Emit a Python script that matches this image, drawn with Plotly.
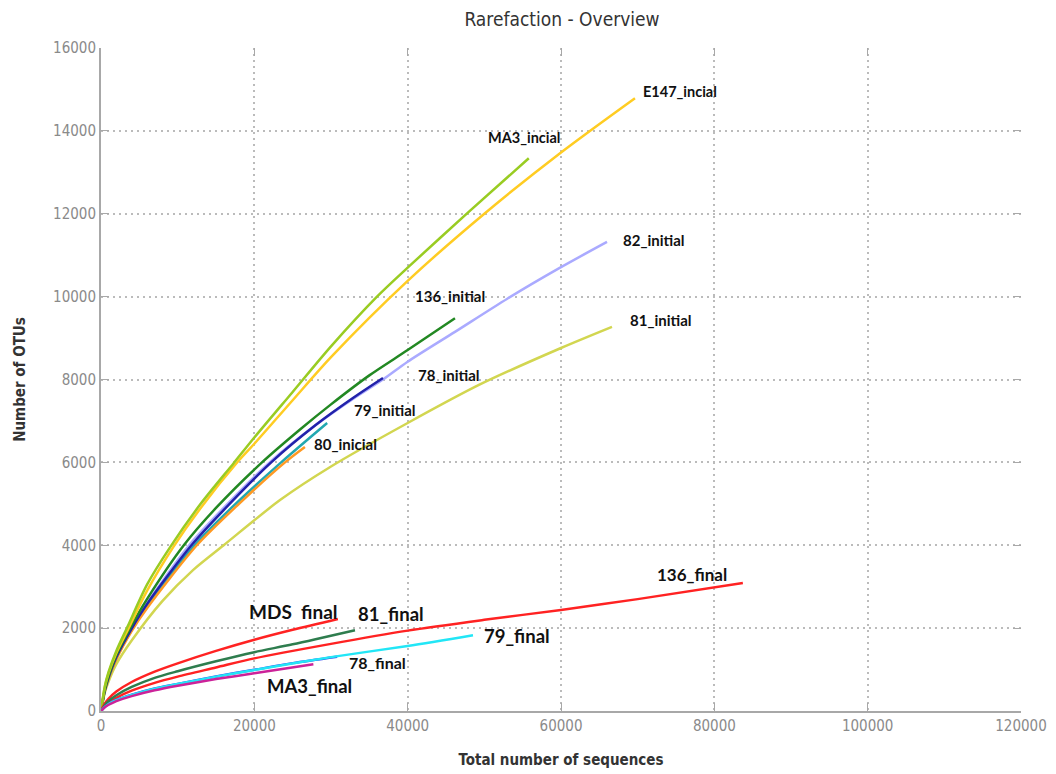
import plotly.graph_objects as go

# ---- data ----
names = ["81_initial", "82_initial", "79_initial", "80_inicial", "78_initial", "136_initial",
         "E147_incial", "MA3_incial", "136_final", "MDS_final", "81_final", "78_final",
         "79_final", "MA3_final"]

x_81_initial = [0, 500, 1000, 2000, 4000, 8000, 12000, 16000, 23350, 30000, 40000, 49430, 60000, 66650]
y_81_initial = [0, 450, 720, 1130, 1700, 2650, 3400, 4000, 5090, 5900, 6950, 7880, 8760, 9270]

x_82_initial = [0, 500, 1000, 2000, 4000, 6000, 11500, 16000, 22000, 28000, 33000, 36780, 40000, 46170, 53000, 60000, 66000]
y_82_initial = [0, 500, 820, 1300, 2000, 2600, 4000, 4900, 6000, 6900, 7550, 8000, 8430, 9150, 9950, 10710, 11320]

x_79_initial = [0, 500, 1000, 2000, 4000, 6000, 12200, 17000, 23500, 29500]
y_79_initial = [0, 490, 800, 1270, 1950, 2520, 4000, 4900, 6000, 6950]

x_80_inicial = [0, 500, 1000, 2000, 4000, 6000, 12500, 18000, 24000, 26600]
y_80_inicial = [0, 480, 790, 1250, 1930, 2480, 4000, 5000, 6000, 6370]

x_78_initial = [0, 500, 1000, 2000, 4000, 6000, 11800, 16000, 22200, 28000, 33000, 36780]
y_78_initial = [0, 500, 820, 1300, 1990, 2580, 4000, 4850, 6000, 6900, 7570, 8035]

x_136_initial = [0, 500, 1000, 2000, 3800, 6000, 10800, 15000, 21000, 26000, 30000, 35000, 40000, 46170]
y_136_initial = [0, 520, 850, 1350, 2000, 2700, 4000, 4900, 6000, 6800, 7400, 8100, 8710, 9480]

x_E147_incial = [0, 500, 1000, 2000, 3600, 6000, 9400, 13000, 18000, 20000, 25000, 30000, 40000, 50000, 60000, 69650]
y_E147_incial = [0, 580, 920, 1400, 2000, 2900, 3950, 4900, 6050, 6450, 7500, 8540, 10380, 12000, 13480, 14790]

x_MA3_incial = [0, 500, 1000, 2000, 3500, 6000, 9000, 13000, 17300, 20000, 25000, 30000, 36000, 40000, 48000, 55800]
y_MA3_incial = [0, 600, 950, 1450, 2050, 3050, 3950, 5000, 5980, 6600, 7700, 8800, 10000, 10700, 12050, 13340]

x_136_final = [0, 500, 1000, 2000, 4000, 7000, 10000, 15000, 20000, 30000, 40000, 50000, 60000, 70000, 83720]
y_136_final = [0, 120, 200, 320, 490, 680, 830, 1050, 1270, 1620, 1940, 2200, 2440, 2700, 3090]

x_MDS_final = [0, 500, 1000, 2000, 4000, 7000, 10000, 15000, 20000, 25000, 30900]
y_MDS_final = [0, 180, 300, 470, 700, 950, 1150, 1450, 1720, 1960, 2220]

x_81_final = [0, 500, 1000, 2000, 4000, 7000, 10000, 15000, 20000, 25000, 33130]
y_81_final = [0, 140, 240, 380, 580, 800, 960, 1200, 1420, 1610, 1950]

x_78_final = [0, 500, 1000, 2000, 4000, 7000, 10000, 15000, 20000, 25000, 30800]
y_78_final = [0, 100, 170, 265, 395, 545, 655, 835, 995, 1155, 1310]

x_79_final = [0, 500, 1000, 2000, 4000, 7000, 10000, 15000, 20000, 30000, 40000, 48520]
y_79_final = [0, 100, 170, 260, 390, 540, 650, 830, 990, 1300, 1570, 1830]

x_MA3_final = [0, 500, 1000, 2000, 4000, 7000, 10000, 15000, 20000, 27700]
y_MA3_final = [0, 90, 150, 240, 360, 500, 610, 770, 910, 1130]

colors = {
    "81_initial": "#d2d650", "82_initial": "#aaaaff", "79_initial": "#22a8b0",
    "80_inicial": "#ff9922", "78_initial": "#2222aa", "136_initial": "#228822",
    "E147_incial": "#ffcc22", "MA3_incial": "#99cc22", "136_final": "#ff2222",
    "MDS_final": "#ff2222", "81_final": "#2e7d4e", "79_final": "#22e6f6",
    "78_final": "#3344ee", "MA3_final": "#cc2299",
}

series = {
    "81_initial": (x_81_initial, y_81_initial), "82_initial": (x_82_initial, y_82_initial),
    "79_initial": (x_79_initial, y_79_initial), "80_inicial": (x_80_inicial, y_80_inicial),
    "78_initial": (x_78_initial, y_78_initial), "136_initial": (x_136_initial, y_136_initial),
    "E147_incial": (x_E147_incial, y_E147_incial), "MA3_incial": (x_MA3_incial, y_MA3_incial),
    "136_final": (x_136_final, y_136_final), "MDS_final": (x_MDS_final, y_MDS_final),
    "81_final": (x_81_final, y_81_final), "79_final": (x_79_final, y_79_final),
    "78_final": (x_78_final, y_78_final), "MA3_final": (x_MA3_final, y_MA3_final),
}

label_text = ["E147_incial", "MA3_incial", "82_initial", "136_initial", "81_initial", "78_initial",
              "79_initial", "80_inicial", "136_final", "MDS  final", "81_final", "79_final",
              "78_final", "MA3_final"]
label_x = [75520, 55170, 72000, 45520, 73040, 45390, 37040, 31830, 77090, 25170, 37820, 54260, 36000, 27130]
label_y = [14960, 13830, 11365, 10010, 9435, 8110, 7260, 6440, 3305, 2410, 2340, 1810, 1160, 600]
label_size = [14.5, 14.5, 15, 15, 15, 15, 15, 15, 17, 19, 18.5, 18.5, 16, 18.5]

fig = go.Figure()
for n in names:
    xs, ys = series[n]
    fig.add_trace(go.Scatter(x=xs, y=ys, mode="lines", name=n,
                             line=dict(color=colors[n], width=2.5, shape="spline", smoothing=0.8),
                             showlegend=False, hoverinfo="skip"))

for t, lx, ly, s in zip(label_text, label_x, label_y, label_size):
    fig.add_annotation(x=lx, y=ly, xref="x", yref="y", text="<b>" + t + "</b>", showarrow=False,
                       font=dict(family="Lato, Open Sans, sans-serif", size=s, color="#111111"),
                       xanchor="center", yanchor="middle")

cond = "DejaVu Sans Condensed, Liberation Sans Narrow, sans-serif"
tickfont = dict(family=cond, size=15, color="#8a8a8a")
axtitle = dict(family=cond, size=15, color="#333333")
xt = [0, 20000, 40000, 60000, 80000, 100000, 120000]
yt = list(range(0, 16001, 2000))

fig.update_layout(
    width=1056, height=774,
    margin=dict(l=93, r=43, t=40, b=71),
    paper_bgcolor="white", plot_bgcolor="white",
    title=dict(text="Rarefaction - Overview", x=0.5246, xanchor="center", y=0.985, yanchor="middle",
               font=dict(family=cond, size=19, color="#333333")),
    xaxis=dict(range=[0, 120000], tickvals=xt, tickformat="d", showgrid=True, gridcolor="#bbbbbb",
               griddash="2px,4px", gridwidth=1.5, automargin=False,
               showline=True, linecolor="#a8a8a8", linewidth=2, ticks="inside", ticklen=8,
               tickcolor="#a8a8a8", tickwidth=1, tickfont=tickfont, zeroline=False,
               title=dict(text="<b>Total number of sequences</b>", font=axtitle, standoff=20)),
    yaxis=dict(range=[0, 16000], tickvals=yt, tickformat="d", automargin=False,
               showgrid=True, gridcolor="#bbbbbb", griddash="2px,4px", gridwidth=1.5,
               showline=True, linecolor="#a8a8a8", linewidth=2, ticks="inside", ticklen=8,
               tickcolor="#a8a8a8", tickwidth=1, tickfont=tickfont, zeroline=False,
               title=dict(text="<b>Number of OTUs</b>", font=axtitle, standoff=24)),
    xaxis2=dict(range=[0, 120000], overlaying="x", side="top", showgrid=False, showline=False,
                ticks="inside", ticklen=8, tickcolor="#a8a8a8", showticklabels=False,
                tickvals=xt, zeroline=False, automargin=False),
    yaxis2=dict(range=[0, 16000], overlaying="y", side="right", showgrid=False, showline=False,
                ticks="inside", ticklen=8, tickcolor="#a8a8a8", showticklabels=False,
                tickvals=yt, zeroline=False, automargin=False),
)
fig.add_trace(go.Scatter(x=[None], y=[None], xaxis="x2", yaxis="y2", showlegend=False, hoverinfo="skip"))

fig.write_html("out.html")
